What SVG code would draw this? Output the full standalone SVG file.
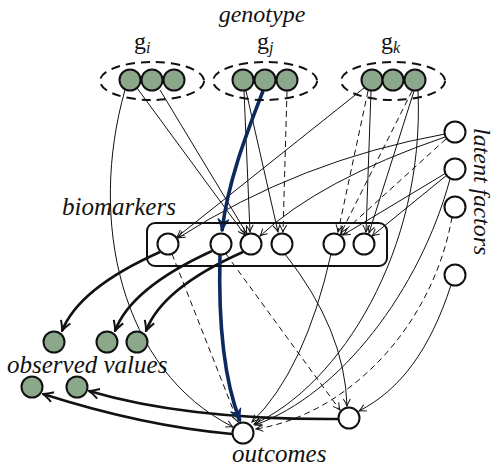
<svg xmlns="http://www.w3.org/2000/svg" width="496" height="473" viewBox="0 0 496 473">
<style>
.lbl{font-family:"Liberation Serif","Times New Roman",serif;font-style:italic;font-size:25px;fill:#111}
.g{font-family:"Liberation Serif","Times New Roman",serif;font-size:24px;fill:#111}
.sub{font-size:16px;font-style:italic}
.obs{fill:#8ba88a;stroke:#111;stroke-width:2}
.nd{fill:#fff;stroke:#111;stroke-width:2}
.grp{fill:none;stroke:#111;stroke-width:2;stroke-dasharray:9 6}
.e{fill:none;stroke:#111;stroke-width:1;marker-end:url(#ah)}
.d{stroke-dasharray:6 4}
.t{fill:none;stroke:#111;stroke-width:2.6;marker-end:url(#at)}
.b{fill:none;stroke:#0d2a5e;stroke-width:3.6;marker-end:url(#ab)}
</style>
<defs>
<marker id="ah" viewBox="-9 -5 10 10" refX="0" refY="0" markerWidth="10" markerHeight="10" orient="auto" markerUnits="userSpaceOnUse"><path d="M-7,-3.5 Q-2.5,-0.8 0,0 Q-2.5,0.8 -7,3.5" fill="none" stroke="#111" stroke-width="1"/></marker>
<marker id="at" viewBox="-13 -7 14 14" refX="0" refY="0" markerWidth="14" markerHeight="14" orient="auto" markerUnits="userSpaceOnUse"><path d="M-10,-5 Q-3.5,-1 0,0 Q-3.5,1 -10,5" fill="none" stroke="#111" stroke-width="2"/></marker>
<marker id="ab" viewBox="-14 -7 16 14" refX="0" refY="0" markerWidth="16" markerHeight="14" orient="auto" markerUnits="userSpaceOnUse"><path d="M-12,-5.5 Q-4,-1 1,0 Q-4,1 -12,5.5 L-8,0 Z" fill="#0d2a5e" stroke="#0d2a5e" stroke-width="1"/></marker>
</defs>

<g id="labels">
<text class="lbl" x="262" y="22" text-anchor="middle" style="font-size:24px">genotype</text>
<text class="g" x="134" y="49">g<tspan class="sub" dy="4">i</tspan></text>
<text class="g" x="257" y="49">g<tspan class="sub" dy="4">j</tspan></text>
<text class="g" x="381" y="49">g<tspan class="sub" dy="4">k</tspan></text>
<text class="lbl" x="62" y="215">biomarkers</text>
<text class="lbl" x="7" y="373">observed values</text>
<text class="lbl" x="232" y="462">outcomes</text>
<text class="lbl" transform="translate(474,128) rotate(90)" style="font-size:24px">latent factors</text>
</g>

<g id="connectors">
<path class="e" d="M125,90 C88,220 120,370 233,427"/>
<path class="e" d="M137,88 L245,235"/>
<path class="e" d="M160,90 L247,234"/>
<path class="e" d="M244,91 L250,232"/>
<path class="e" d="M246,91 L278,232"/>
<path class="e d" d="M287,91 L283,232"/>
<path class="e" d="M364,88 L177,237"/>
<path class="e" d="M445,134 Q300,160 178,238"/>
<path class="e" d="M445,137 Q320,180 260,236"/>
<path class="e d" d="M446,139 L340,235"/>
<path class="e" d="M446,173 L343,235"/>
<path class="e" d="M447,175 L372,236"/>
<path class="e d" d="M368,91 L338,232"/>
<path class="e" d="M371,91 L366,232"/>
<path class="e d" d="M412,91 L341,233"/>
<path class="e" d="M414,91 L369,233"/>
<path class="e" d="M418,91 C425,250 340,385 254,424"/>
<path class="e" d="M450,179 C420,290 340,395 255,425"/>
<path class="e d" d="M452,217 C432,330 345,415 256,429"/>
<path class="e" d="M451,285 C430,350 400,390 359,411"/>
<path class="e" d="M331,254 Q305,370 252,422"/>
<path class="e" d="M285,254 Q345,330 347,406"/>
<path class="e d" d="M226,254 L340,410"/>
<path class="e d" d="M172,254 L238,422"/>
<path class="t" d="M160,252 Q79,288 62,331"/>
<path class="t" d="M212,251 Q131,288 115,331"/>
<path class="t" d="M243,252 Q162,288 146,331"/>
<path class="t" d="M232,434 Q143,426 43,394"/>
<path class="t" d="M338,419 Q187,420 89,391"/>
<path class="b" d="M263,91 C248,130 228,180 222,231"/>
<path class="b" d="M220,255 C218,330 226,385 240,421"/>
</g>

<g id="genotype-i">
<ellipse class="grp" cx="152" cy="81" rx="52" ry="19"/>
<circle class="obs" cx="130" cy="80" r="10.5"/>
<circle class="obs" cx="152" cy="80" r="10.5"/>
<circle class="obs" cx="174" cy="80" r="10.5"/>
</g>
<g id="genotype-j">
<ellipse class="grp" cx="265" cy="81" rx="52" ry="19"/>
<circle class="obs" cx="243" cy="80" r="10.5"/>
<circle class="obs" cx="265" cy="80" r="10.5"/>
<circle class="obs" cx="287" cy="80" r="10.5"/>
</g>
<g id="genotype-k">
<ellipse class="grp" cx="393" cy="81" rx="52" ry="19"/>
<circle class="obs" cx="372" cy="80" r="10.5"/>
<circle class="obs" cx="393" cy="80" r="10.5"/>
<circle class="obs" cx="415" cy="80" r="10.5"/>
</g>

<g id="biomarkers">
<rect x="147" y="223" width="240" height="43" rx="8" fill="none" stroke="#111" stroke-width="2"/>
<circle class="nd" cx="168" cy="244" r="10.5"/>
<circle class="nd" cx="221" cy="244" r="10.5"/>
<circle class="nd" cx="251" cy="244" r="10.5"/>
<circle class="nd" cx="282" cy="244" r="10.5"/>
<circle class="nd" cx="334" cy="244" r="10.5"/>
<circle class="nd" cx="364" cy="244" r="10.5"/>
</g>

<g id="latent-factors">
<circle class="nd" cx="455" cy="132" r="10.5"/>
<circle class="nd" cx="455" cy="169" r="10.5"/>
<circle class="nd" cx="455" cy="207" r="10.5"/>
<circle class="nd" cx="455" cy="275" r="10.5"/>
</g>

<g id="observed-values">
<circle class="obs" cx="54" cy="342" r="10.5"/>
<circle class="obs" cx="107" cy="342" r="10.5"/>
<circle class="obs" cx="137" cy="342" r="10.5"/>
<circle class="obs" cx="32" cy="387" r="10.5"/>
<circle class="obs" cx="77" cy="387" r="10.5"/>
</g>

<g id="outcomes">
<circle class="nd" cx="243" cy="433" r="10.5"/>
<circle class="nd" cx="349" cy="418" r="10.5"/>
</g>
</svg>
